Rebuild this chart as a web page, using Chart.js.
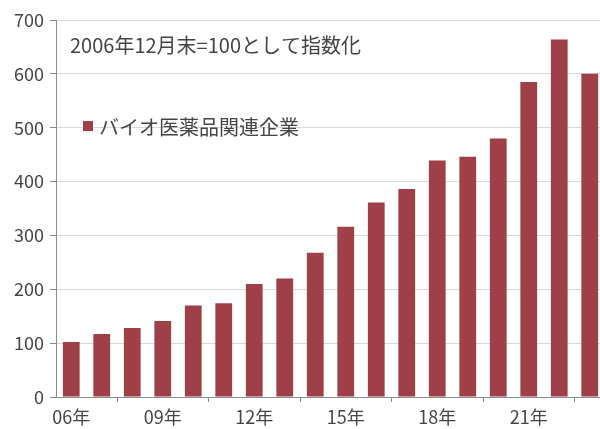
<!DOCTYPE html>
<html>
<head>
<meta charset="utf-8">
<script src="https://cdn.jsdelivr.net/npm/chart.js@4.4.0/dist/chart.umd.min.js"></script>
<style>
  html, body { margin: 0; padding: 0; background: #fff; overflow: hidden; width: 600px; height: 429px; }
  #wrap { width: 605px; height: 429px; position: relative; }
</style>
</head>
<body>
<div id="wrap"><canvas id="c" width="605" height="429"></canvas></div>
<script>
const categories = ["06年","07年","08年","09年","10年","11年","12年","13年","14年","15年","16年","17年","18年","19年","20年","21年","22年","23年"];
const seriesName = "バイオ医薬品関連企業";
const seriesValues = [102, 117, 128, 141, 170, 174, 210, 220, 268, 316, 361, 386, 439, 446, 480, 585, 664, 600];
const yTicks = [0, 100, 200, 300, 400, 500, 600, 700];
const note = "2006年12月末=100として指数化";

const FONT = "'Noto Sans CJK JP', 'Noto Sans', sans-serif";
const TXT = '#454545';
const BAR = '#9F3F47';

const overlay = {
  id: 'overlay',
  afterDraw(chart) {
    const ctx = chart.ctx;
    ctx.save();
    ctx.fillStyle = TXT;
    ctx.textBaseline = 'middle';
    ctx.textAlign = 'left';
    ctx.font = '20px ' + FONT;
    ctx.fillText(note, 70, 45);
    ctx.fillStyle = BAR;
    ctx.fillRect(83, 121, 10, 10);
    ctx.fillStyle = TXT;
    ctx.font = '20px ' + FONT;
    ctx.fillText(chart.data.datasets[0].label, 99, 127);
    ctx.restore();
  }
};

new Chart(document.getElementById('c'), {
  type: 'bar',
  data: {
    labels: categories,
    datasets: [{
      label: seriesName,
      data: seriesValues,
      backgroundColor: BAR,
      borderWidth: 0,
      barPercentage: 0.55,
      categoryPercentage: 1.0
    }]
  },
  options: {
    responsive: false,
    animation: false,
    layout: { padding: { top: 20, right: 0, left: 0, bottom: 0 } },
    plugins: { legend: { display: false }, tooltip: { enabled: false } },
    scales: {
      x: {
        offset: true,
        grid: { offset: true, drawOnChartArea: false, drawTicks: true, tickLength: 5, tickColor: '#8c8c8c' },
        border: { color: '#8c8c8c', width: 1 },
        ticks: {
          autoSkip: false, maxRotation: 0, minRotation: 0, padding: 4,
          color: TXT, font: { family: FONT, size: 18 },
          callback: function(v, i) { return i % 3 === 0 ? categories[i] : null; }
        },
        afterFit(s) { s.height = 32; }
      },
      y: {
        min: 0, max: 700,
        afterBuildTicks(s) { s.ticks = yTicks.map(v => ({ value: v })); },
        grid: { color: '#d9d9d9', lineWidth: 1, tickLength: 6, tickColor: '#8c8c8c' },
        border: { color: '#8c8c8c', width: 1 },
        ticks: { color: TXT, padding: 6, font: { family: FONT, size: 18 } },
        afterFit(s) { s.width = 56; }
      }
    }
  },
  plugins: [overlay]
});
</script>
</body>
</html>
